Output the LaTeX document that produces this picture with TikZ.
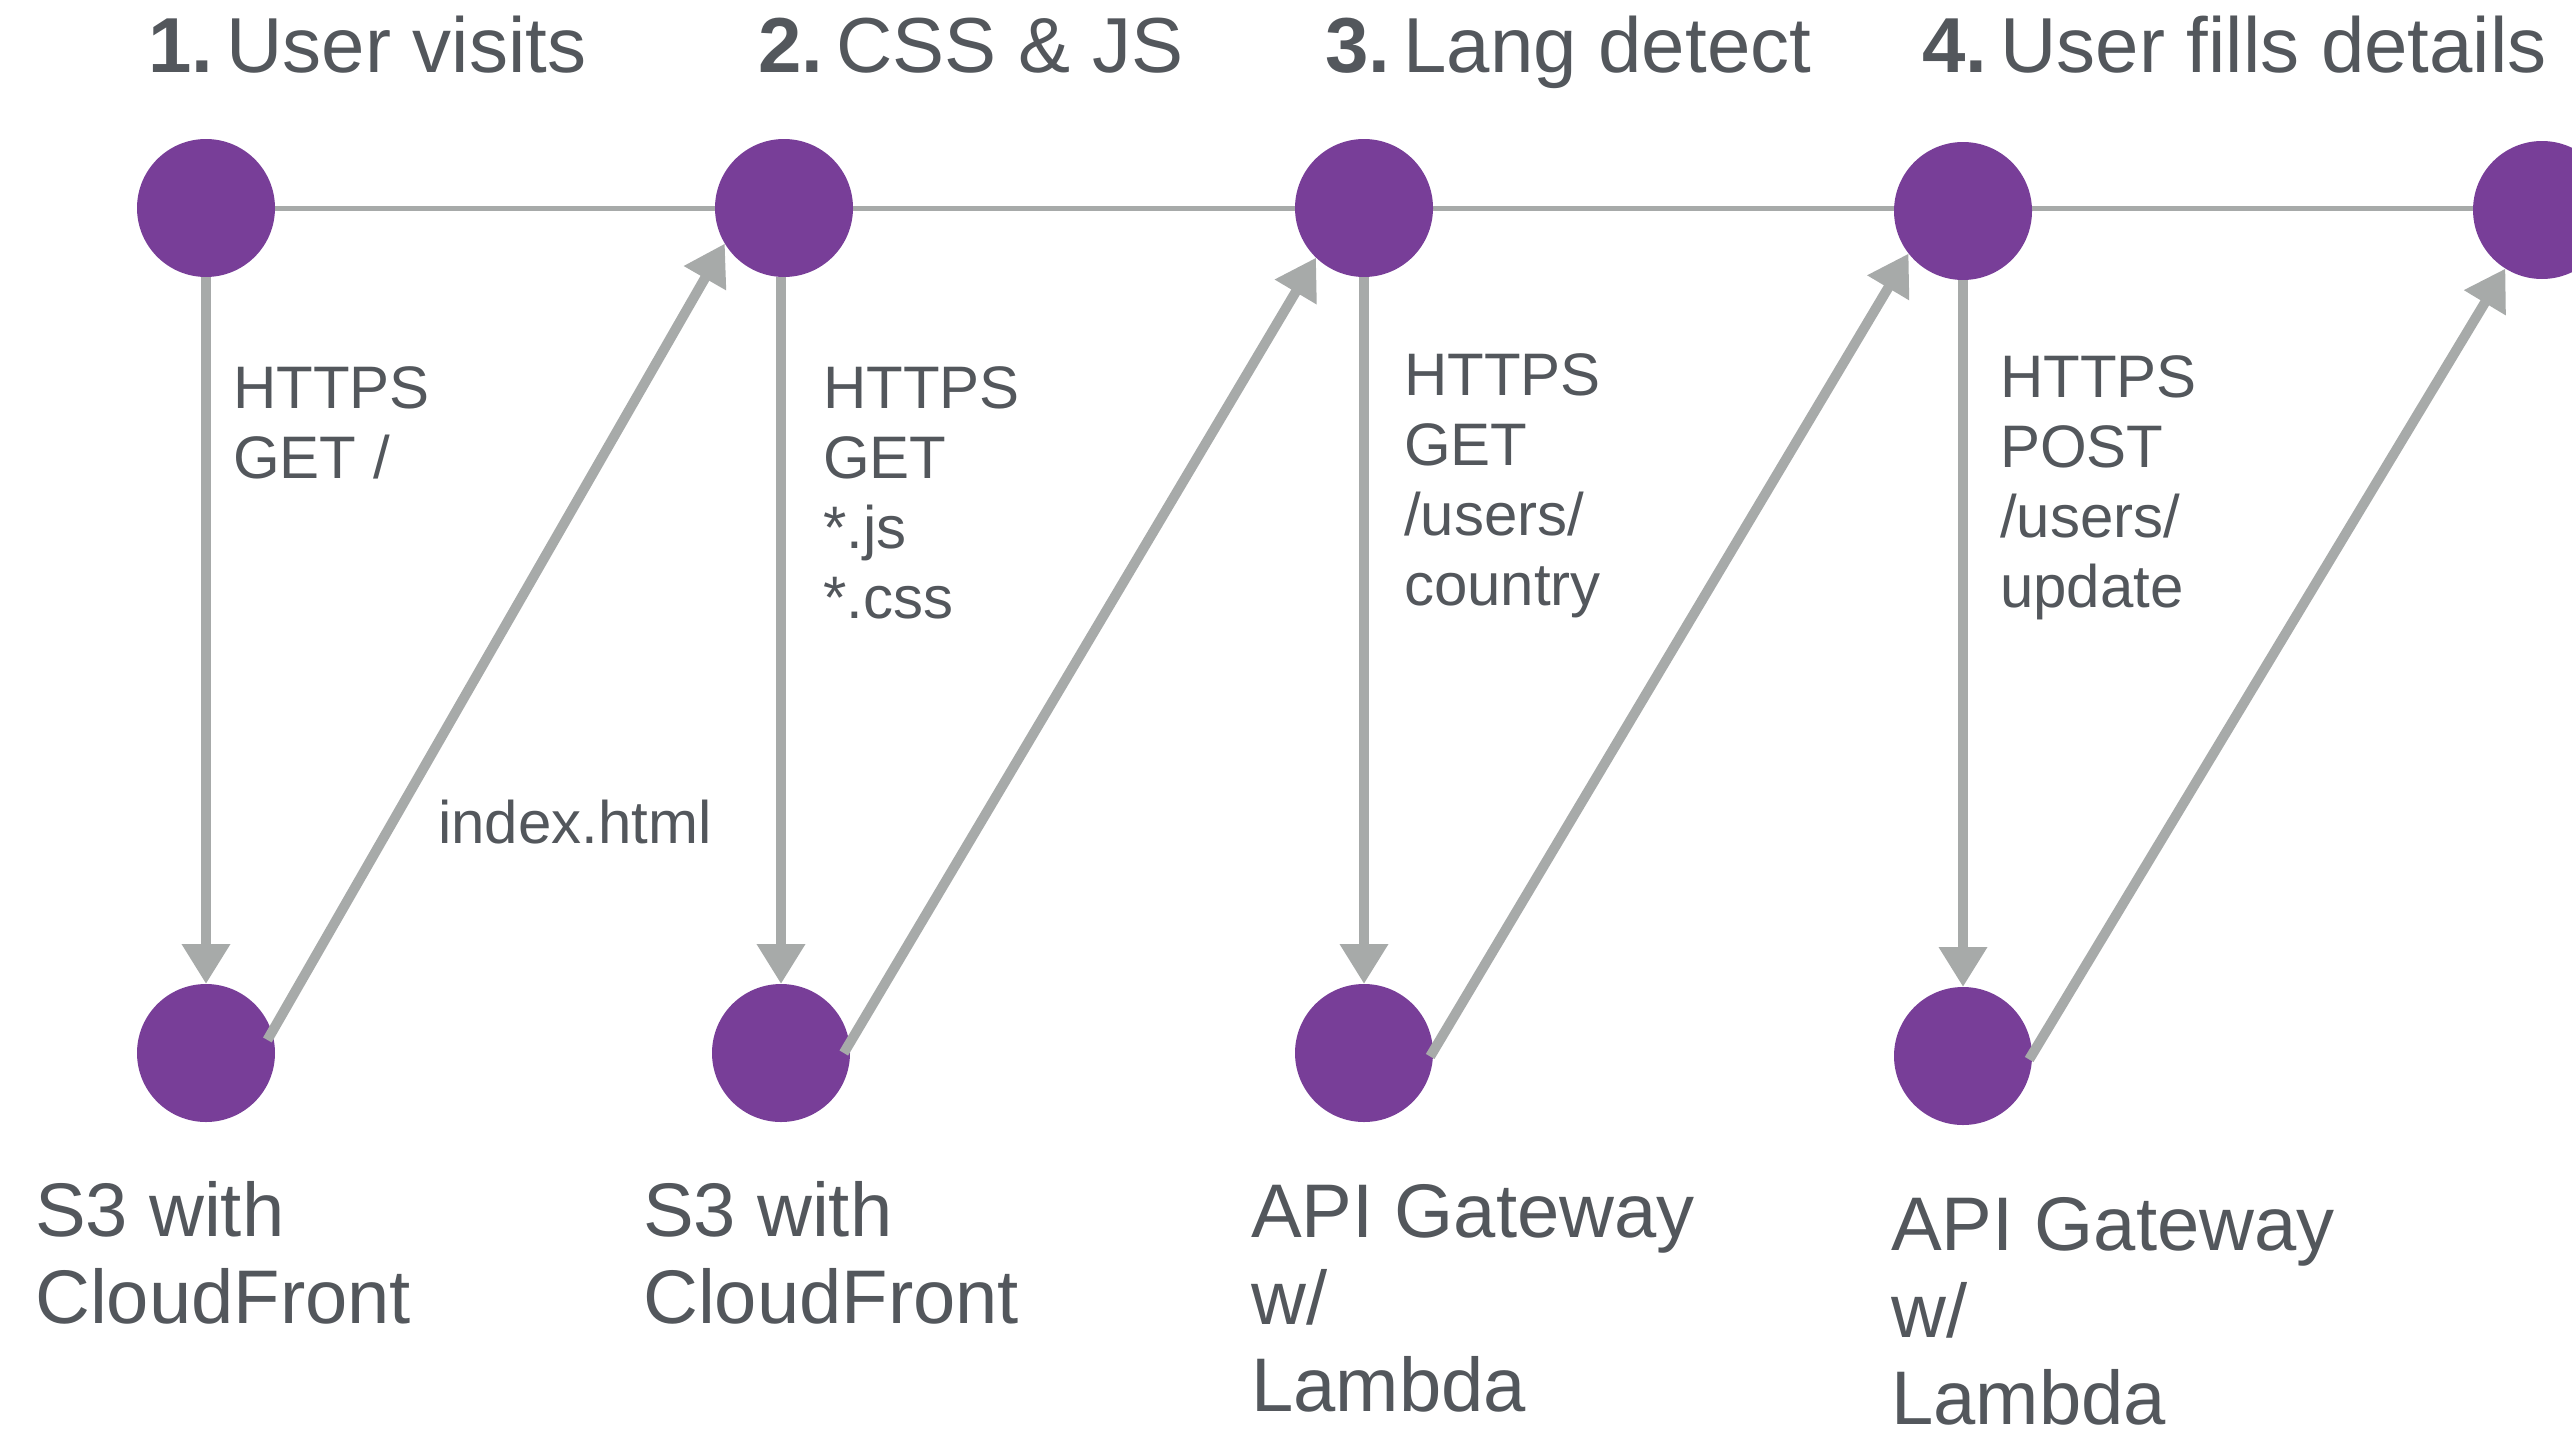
\documentclass[tikz,border=0pt]{standalone}
\usepackage{fontspec}
\setmainfont{Liberation Sans}
\usetikzlibrary{arrows.meta,calc}
\definecolor{dotpurple}{HTML}{783E98}
\definecolor{linegray}{HTML}{A7AAA9}
\definecolor{txtgray}{HTML}{53575C}
\begin{document}
\begin{tikzpicture}[x=1pt,y=-1pt,
  dot/.style={circle, fill=dotpurple, minimum size=138pt, inner sep=0pt, outer sep=0pt},
  hline/.style={draw=linegray, line width=5pt},
  flow/.style={draw=linegray, line width=10pt, -{Triangle[length=40pt,width=46pt]}},
  title/.style={anchor=base west, inner sep=0pt, text=txtgray, font=\fontsize{78}{90}\selectfont},
  proto/.style={anchor=base west, inner sep=0pt, text=txtgray, align=left, font=\fontsize{60}{70}\selectfont},
  svc/.style={anchor=base west, inner sep=0pt, text=txtgray, align=left, font=\fontsize{76}{87}\selectfont}]
\clip (0,0) rectangle (2572,1429);
\useasboundingbox (0,0) rectangle (2572,1429);

% titles
\node[title] (h1) at (148,73) {\textbf{1.}\hspace{0.17em}User visits};
\node[title] (h2) at (758,73) {\textbf{2.}\hspace{0.17em}CSS \& JS};
\node[title] (h3) at (1325,73) {\textbf{3.}\hspace{0.17em}Lang detect};
\node[title] (h4) at (1922,73) {\textbf{4.}\hspace{0.17em}User fills details};

% horizontal timeline (under the dots)
\coordinate (l1) at (206,208);
\coordinate (l5) at (2542,208);
\draw[hline] (l1) -- (l5);

% dots
\node[dot] (T1) at (206,208) {};
\node[dot] (T2) at (784,208) {};
\node[dot] (T3) at (1364,208) {};
\node[dot] (T4) at (1963,211) {};
\node[dot] (T5) at (2542,210) {};
\node[dot] (B1) at (206,1053) {};
\node[dot] (B2) at (781,1053) {};
\node[dot] (B3) at (1364,1053) {};
\node[dot] (B4) at (1963,1056) {};

% requests
\draw[flow] (T1.south) -- (B1.north);
\draw[flow] (T2.south -| B2.north) -- (B2.north);
\draw[flow] (T3.south) -- (B3.north);
\draw[flow] (T4.south) -- (B4.north);

% responses
\draw[flow] ($(B1.center)!0.91!(B1.12)$) -- (T2.211);
\draw[flow] ($(B2.center)!0.91!(B2.0)$) -- (T3.226);
\draw[flow] ($(B3.center)!0.96!(B3.-3)$) -- (T4.218);
\draw[flow] ($(B4.center)!0.96!(B4.-3)$) -- (T5.238);

% labels (anchor = baseline of the last line)
\node[proto] (p1) at (233,478) {HTTPS\\GET /};
\node[proto] (p2) at (823,618) {HTTPS\\GET\\*.js\\*.css};
\node[proto] (p3) at (1404,605) {HTTPS\\GET\\/users/\\country};
\node[proto] (p4) at (2000,607) {HTTPS\\POST\\/users/\\update};
\node[proto] (p5) at (438,843) {index.html};

\node[svc] (s1) at (35,1323) {S3 with\\CloudFront};
\node[svc] (s2) at (643,1323) {S3 with\\CloudFront};
\node[svc] (s3) at (1251,1411) {API Gateway\\w/\\Lambda};
\node[svc] (s4) at (1891,1424) {API Gateway\\w/\\Lambda};
\end{tikzpicture}
\end{document}
